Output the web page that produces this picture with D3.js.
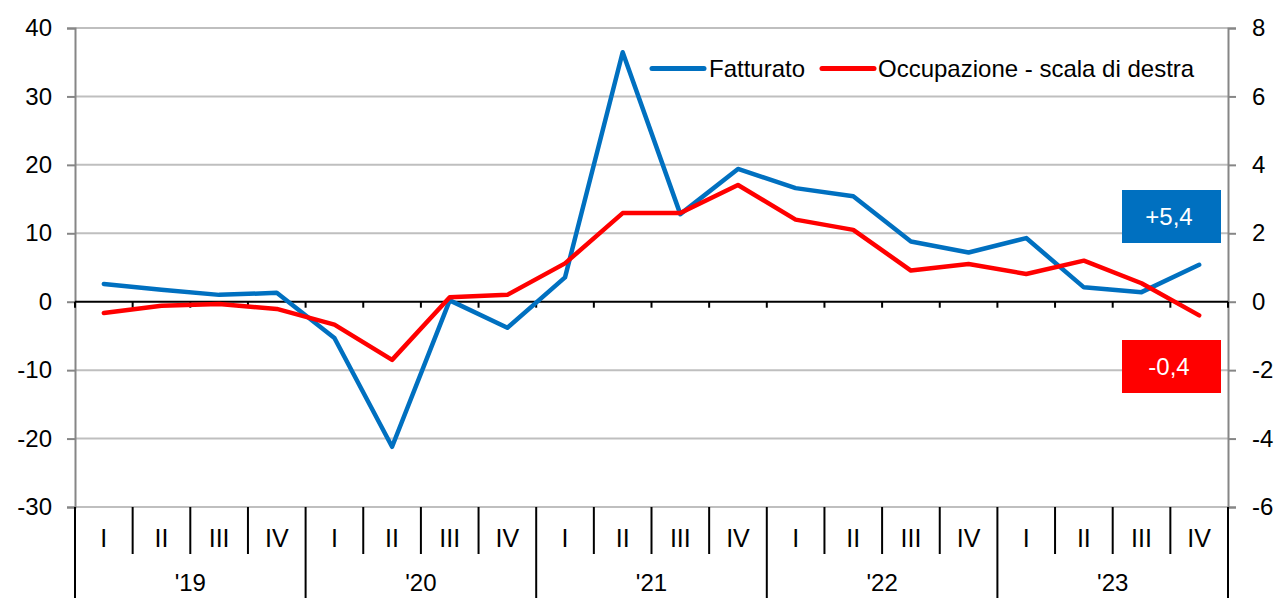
<!DOCTYPE html>
<html><head><meta charset="utf-8">
<script src="https://cdn.jsdelivr.net/npm/d3@7"></script>
<style>body{margin:0;background:#fff}svg{display:block;font-family:"Liberation Sans",Arial,sans-serif}</style>
</head><body><svg id="c" width="1278" height="598"></svg>
<script>
const years = ["'19","'20","'21","'22","'23"];
const quarters = ["I","II","III","IV"];
const fatturato = [2.6,1.75,1.0,1.3,-5.3,-21.2,0.2,-3.8,3.55,36.45,12.8,19.4,16.6,15.4,8.8,7.2,9.3,2.1,1.4,5.4];
const occupazione = [-0.33,-0.12,-0.07,-0.21,-0.67,-1.70,0.13,0.20,1.12,2.59,2.59,3.41,2.40,2.10,0.91,1.10,0.81,1.20,0.54,-0.40];
const leftTicks = [-30,-20,-10,0,10,20,30,40];
const rightTicks = [-6,-4,-2,0,2,4,6,8];
const seriesNames = ["Fatturato","Occupazione - scala di destra"];
const endLabels = ["+5,4","-0,4"];

const blue = "#0070C0", red = "#FF0000";
const svg = d3.select("#c");
const L = 75, R = 1228, T = 28, B = 507;
const cats = [];
years.forEach(y => quarters.forEach(q => cats.push(y + "|" + q)));
const x = d3.scaleBand().domain(cats).range([L, R]);
const yL = d3.scaleLinear().domain([-30, 40]).range([B, T]);
const yR = d3.scaleLinear().domain([-6, 8]).range([B, T]);

// gridlines
svg.append("g").selectAll("line").data(leftTicks.filter(d => d !== 0)).join("line")
  .attr("x1", L).attr("x2", R).attr("y1", d => yL(d)).attr("y2", d => yL(d))
  .attr("stroke", "#bfbfbf").attr("stroke-width", 2);

// left axis
const gl = svg.append("g").attr("transform", `translate(${L},0)`)
  .call(d3.axisLeft(yL).tickValues(leftTicks).tickSize(8).tickPadding(15).tickFormat(d => d));
gl.select(".domain").attr("stroke", "#868686").attr("stroke-width", 2);
gl.selectAll(".tick line").attr("stroke", "#868686").attr("stroke-width", 2);
gl.selectAll("text").attr("font-size", 24).attr("fill", "#000").attr("font-family", "Liberation Sans, Arial");

// right axis
const gr = svg.append("g").attr("transform", `translate(${R},0)`)
  .call(d3.axisRight(yR).tickValues(rightTicks).tickSize(8).tickPadding(16).tickFormat(d => d));
gr.select(".domain").attr("stroke", "#868686").attr("stroke-width", 2);
gr.selectAll(".tick line").attr("stroke", "#868686").attr("stroke-width", 2);
gr.selectAll("text").attr("font-size", 24).attr("fill", "#000").attr("font-family", "Liberation Sans, Arial");

// zero line with ticks
const bounds = cats.map(c => x(c)).concat([R]);
svg.append("line").attr("x1", L).attr("x2", R).attr("y1", yL(0)).attr("y2", yL(0))
  .attr("stroke", "#000").attr("stroke-width", 2);
svg.append("g").selectAll("line").data(bounds).join("line")
  .attr("x1", d => d).attr("x2", d => d).attr("y1", yL(0)).attr("y2", yL(0) + 6)
  .attr("stroke", "#000").attr("stroke-width", 2);

// category axis
svg.append("g").selectAll("line").data(bounds).join("line")
  .attr("x1", d => d).attr("x2", d => d).attr("y1", B)
  .attr("y2", (d, i) => (i % 4 === 0) ? 598 : 554)
  .attr("stroke", "#000").attr("stroke-width", 2);
svg.append("g").selectAll("text").data(cats).join("text")
  .attr("x", d => x(d) + x.bandwidth() / 2).attr("y", 547)
  .attr("text-anchor", "middle").attr("font-size", 25).text(d => d.split("|")[1]);
svg.append("g").selectAll("text").data(years).join("text")
  .attr("x", d => (x(d + "|I") + x(d + "|IV") + x.bandwidth()) / 2).attr("y", 591)
  .attr("text-anchor", "middle").attr("font-size", 24).text(d => d);

// lines
const cx = i => x(cats[i]) + x.bandwidth() / 2;
const lineStyle = (p, c) => p.attr("fill", "none").attr("stroke", c).attr("stroke-width", 4.5)
  .attr("stroke-linejoin", "round").attr("stroke-linecap", "round");
svg.append("path").datum(fatturato)
  .attr("d", d3.line().x((d, i) => cx(i)).y(d => yL(d))).call(lineStyle, blue);
svg.append("path").datum(occupazione)
  .attr("d", d3.line().x((d, i) => cx(i)).y(d => yR(d))).call(lineStyle, red);

// legend
const lg = svg.append("g");
lg.append("line").attr("x1", 652).attr("x2", 704).attr("y1", 68.5).attr("y2", 68.5)
  .attr("stroke", blue).attr("stroke-width", 5).attr("stroke-linecap", "round");
lg.append("text").attr("x", 709).attr("y", 77).attr("font-size", 24).text(seriesNames[0]);
lg.append("line").attr("x1", 822).attr("x2", 874).attr("y1", 68.5).attr("y2", 68.5)
  .attr("stroke", red).attr("stroke-width", 5).attr("stroke-linecap", "round");
lg.append("text").attr("x", 878).attr("y", 77).attr("font-size", 24).text(seriesNames[1]);

// end labels
const boxes = [{t: endLabels[0], c: blue, y: 190}, {t: endLabels[1], c: red, y: 340}];
boxes.forEach(b => {
  svg.append("rect").attr("x", 1122).attr("y", b.y).attr("width", 99).attr("height", 53).attr("fill", b.c);
  svg.append("text").attr("x", 1169).attr("y", b.y + 35).attr("text-anchor", "middle")
    .attr("font-size", 24).attr("fill", "#fff").text(b.t);
});
</script></body></html>
